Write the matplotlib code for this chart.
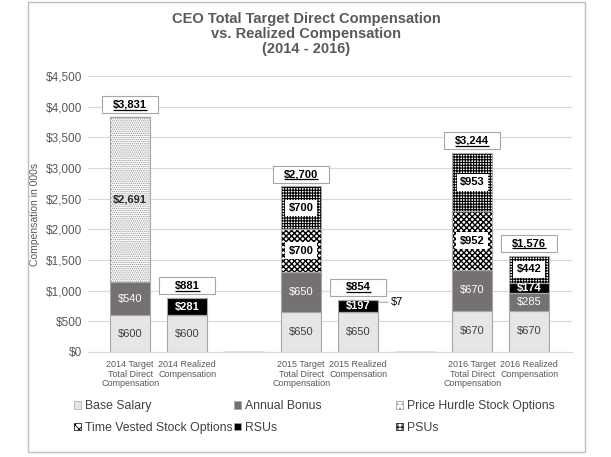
import numpy as np
import matplotlib
matplotlib.use("Agg")
import matplotlib.pyplot as plt
from matplotlib.patches import Patch, Rectangle

plt.rcParams['font.family'] = ['Liberation Sans', 'DejaVu Sans']
plt.rcParams['hatch.linewidth'] = 0.6

categories = ['2014 Target\nTotal Direct\nCompensation', '2014 Realized\nCompensation', '',
              '2015 Target\nTotal Direct\nCompensation', '2015 Realized\nCompensation', '',
              '2016 Target\nTotal Direct\nCompensation', '2016 Realized\nCompensation']
base_salary = [600, 600, 0, 650, 650, 0, 670, 670]
annual_bonus = [540, 0, 0, 650, 0, 0, 670, 285]
price_hurdle = [2691, 0, 0, 0, 0, 0, 0, 0]
time_vested = [0, 0, 0, 700, 0, 0, 952, 0]
rsus = [0, 281, 0, 0, 197, 0, 0, 174]
psus = [0, 0, 0, 700, 7, 0, 953, 442]
totals = [3831, 881, 0, 2700, 854, 0, 3244, 1576]
yticks = [0, 500, 1000, 1500, 2000, 2500, 3000, 3500, 4000, 4500]

GRAY_TXT = '#595959'
EDGE = '#a6a6a6'

fig = plt.figure(figsize=(6.11, 4.57), dpi=100)
ax = fig.add_axes([0.144, 0.2298, 0.792, 0.6039])

# outer frame
fig.patches.append(Rectangle((0.0458, 0.011), 0.911, 0.9846, transform=fig.transFigure,
                             fill=False, edgecolor='#bfbfbf', linewidth=1))

x = np.arange(len(categories))
w = 0.7
bottom = np.zeros(len(x))

# (name, values, face, hatch color, hatch, hatch lw, label color, bold, label box)
series = [
    ('Base Salary', base_salary, '#e7e6e6', None, None, 0, '#404040', False, False),
    ('Annual Bonus', annual_bonus, '#767171', None, None, 0, 'white', False, False),
    ('Price Hurdle Stock Options', price_hurdle, 'white', '#8c8c8c', '........', 0.6, '#262626', True, False),
    ('Time Vested Stock Options', time_vested, 'white', 'black', 'xxxxxx', 1.0, 'black', True, True),
    ('RSUs', rsus, 'black', None, None, 0, 'white', True, False),
    ('PSUs', psus, 'white', 'black', '++++++', 0.8, 'black', True, True),
]

handles = {}
for name, vals, face, hcol, hatch, hlw, tcol, bold, box in series:
    vals = np.array(vals, dtype=float)
    if hatch:
        with plt.rc_context({'hatch.linewidth': hlw}):
            ax.bar(x, vals, w, bottom=bottom, color=face, edgecolor=hcol, hatch=hatch,
                   linewidth=0, zorder=2)
        ax.bar(x, vals, w, bottom=bottom, fill=False, edgecolor=EDGE, linewidth=0.8, zorder=3)
        handles[name] = Patch(facecolor=face, edgecolor=hcol, hatch=hatch[:4], linewidth=0.5)
    else:
        ax.bar(x, vals, w, bottom=bottom, color=face, edgecolor=EDGE, linewidth=0.8, zorder=2)
        handles[name] = Patch(facecolor=face, edgecolor=EDGE, linewidth=0.5)
    for i, v in enumerate(vals):
        if v >= 100:
            kw = {}
            if box:
                kw['bbox'] = dict(boxstyle='square,pad=0.3', facecolor='white', edgecolor='none')
            ax.text(x[i], bottom[i] + v / 2, f'${int(v):,}', ha='center', va='center',
                    fontsize=8, color=tcol, fontweight='bold' if bold else 'normal',
                    zorder=5, **kw)
        elif v > 0:
            ax.annotate(f'${int(v):,}', xy=(x[i] + w / 2, bottom[i] + v / 2 - 40),
                        xytext=(x[i] + w / 2 + 0.22, bottom[i] + v / 2 - 40),
                        ha='left', va='center', fontsize=8, color='black',
                        arrowprops=dict(arrowstyle='-', color='#a6a6a6', lw=0.8,
                                        shrinkA=0, shrinkB=0))
    bottom += vals

# total boxes
total_texts = []
for i, t in enumerate(totals):
    if t <= 0:
        continue
    y0 = bottom[i] + 60
    ax.add_patch(Rectangle((x[i] - 0.49, y0), 0.98, 275, facecolor='white',
                           edgecolor=EDGE, linewidth=0.8, zorder=4, clip_on=False))
    tt = ax.text(x[i], y0 + 90, f'${t:,}', ha='center', va='baseline', fontsize=8,
                 fontweight='bold', color='black', zorder=6)
    total_texts.append((tt, y0 + 90))

ax.set_xlim(-0.74, 7.75)
ax.set_ylim(0, 4500)
ax.set_yticks(yticks)
ax.set_yticklabels([f'${v:,}' for v in yticks], fontsize=8.5, color=GRAY_TXT)
ax.set_xticks(x)
ax.set_xticklabels(categories, fontsize=6.5, color=GRAY_TXT, linespacing=1.05)
ax.tick_params(length=0, pad=4)
ax.tick_params(axis='x', pad=6)
ax.grid(axis='y', color='#d9d9d9', linewidth=0.8, zorder=0)
ax.set_axisbelow(True)
for s in ['top', 'right', 'left']:
    ax.spines[s].set_visible(False)
ax.spines['bottom'].set_color('#d9d9d9')
ax.set_ylabel('Compensation in 000s', fontsize=7.5, color=GRAY_TXT, labelpad=4)

fig.text(306 / 611, 1 - 12 / 457, 'CEO Total Target Direct Compensation\nvs. Realized Compensation\n(2014 - 2016)',
         ha='center', va='top', fontsize=10.5, fontweight='bold', color=GRAY_TXT, linespacing=1.1)

# legend in three columns
cols = [(['Base Salary', 'Time Vested Stock Options'], 68),
        (['Annual Bonus', 'RSUs'], 228),
        (['Price Hurdle Stock Options', 'PSUs'], 390)]
for names, px in cols:
    fig.legend([handles[n] for n in names], names, loc='upper left',
               bbox_to_anchor=(px / 611, 1 - 394 / 457), frameon=False,
               fontsize=8.8, handlelength=0.6, handleheight=0.6, handletextpad=0.3,
               labelspacing=0.8, borderpad=0, labelcolor='#404040')

# underline totals (in data coordinates, a little below the baseline)
fig.canvas.draw()
inv = ax.transData.inverted()
for tt, base in total_texts:
    bb = tt.get_window_extent()
    (x0, _), (x1, _) = inv.transform([(bb.x0, bb.y0), (bb.x1, bb.y0)])
    ax.plot([x0, x1], [base - 30, base - 30], color='black', linewidth=0.9, zorder=7,
            clip_on=False, solid_capstyle='butt')

fig.savefig('out.png', dpi=100)
